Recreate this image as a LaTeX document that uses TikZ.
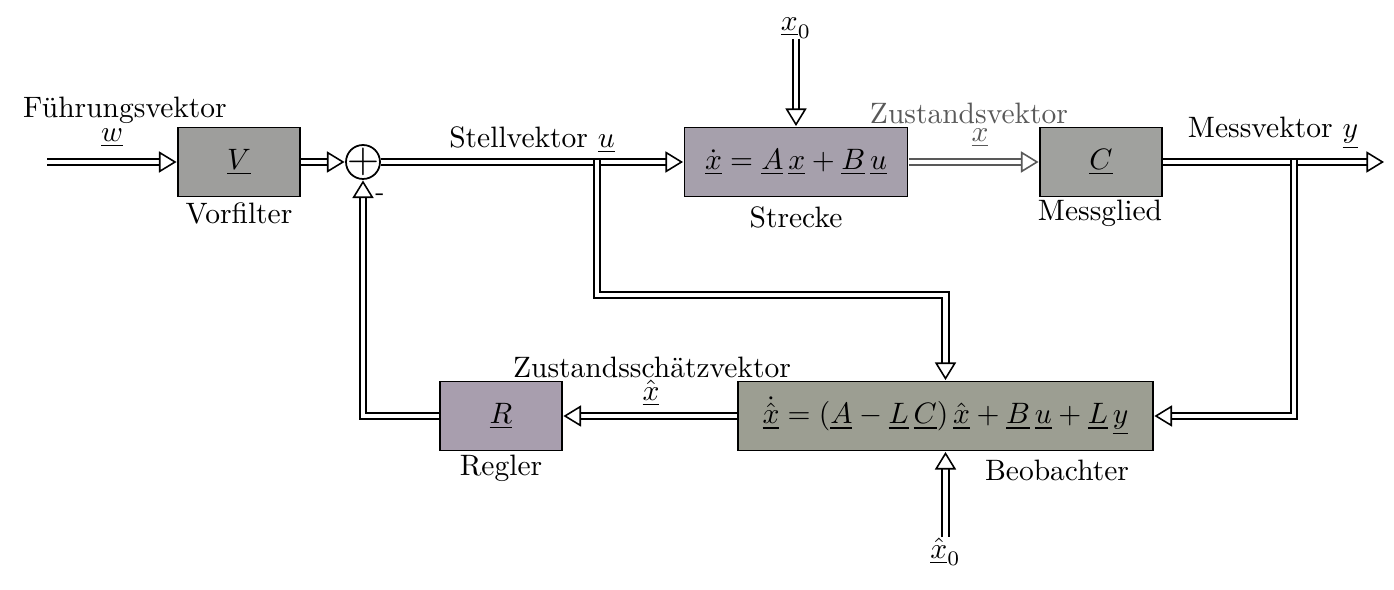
\documentclass[tikz,border=0pt]{standalone}
\usetikzlibrary{arrows.meta}
\definecolor{cV}{RGB}{158,158,156}
\definecolor{cS}{RGB}{166,160,172}
\definecolor{cC}{RGB}{160,161,158}
\definecolor{cR}{RGB}{168,158,174}
\definecolor{cB}{RGB}{156,158,146}
\begin{document}
\begin{tikzpicture}[x=0.02cm,y=-0.02cm,
  every node/.style={scale=1.68},
  blk/.style={draw=black, line width=1pt, minimum height=1.38cm/1.68, inner sep=0pt},
  dbl/.style={double=white, double distance=2.8pt, line width=0.9pt,
    -{Triangle[length=10pt, width=12pt, fill=white, line width=0.9pt]}},
  lbl/.style={inner sep=0pt}]
\useasboundingbox (0,0) rectangle (1394,590);
% blocks
\node[blk, fill=cV, minimum width=2.44cm/1.68] (V) at (239,162) {$\underline{V}$};
\node[draw, circle, line width=1pt, fill=white, minimum size=0.68cm/1.68, inner sep=0pt] (sum) at (363,162) {};
\node[lbl] (plus) at (sum.center) {\Large$+$};
\node[blk, fill=cS, minimum width=4.46cm/1.68] (S) at (796,162) {$\dot{\underline{x}} = \underline{A}\,\underline{x} + \underline{B}\,\underline{u}$};
\node[blk, fill=cC, minimum width=2.44cm/1.68] (C) at (1101,162) {$\underline{C}$};
\node[blk, fill=cR, minimum width=2.44cm/1.68] (R) at (501,416) {$\underline{R}$};
\node[blk, fill=cB, minimum width=8.3cm/1.68] (B) at (945.5,416) {$\dot{\hat{\underline{x}}} = (\underline{A} - \underline{L}\,\underline{C})\,\hat{\underline{x}} + \underline{B}\,\underline{u} + \underline{L}\,\underline{y}$};
% coordinates
\coordinate (in) at (47,162);
\coordinate (out) at (1384,162);
\coordinate (j1) at (597,160);
\coordinate (j2) at (1294,160);
\node[lbl] (x0) at (796,28) {$\underline{x}_0$};
\node[lbl] (xh0) at (945.5,552) {$\hat{\underline{x}}_0$};
% labels
\node[lbl] (lF) at (125,110) {Führungsvektor};
\node[lbl] (lw) at (112,138) {$\underline{w}$};
\node[lbl] (lVf) at (239,213) {Vorfilter};
\node[lbl] (lminus) at (380,197) {\small -};
\node[lbl] (lSt) at (532,140) {Stellvektor $\underline{u}$};
\node[lbl] (lStr) at (796,217) {Strecke};
\node[lbl, text=black!65] (lZ) at (969,113) {Zustandsvektor};
\node[lbl, text=black!65] (lx) at (980,138) {$\underline{x}$};
\node[lbl] (lM) at (1100,213) {Messglied};
\node[lbl] (lMv) at (1273,133) {Messvektor $\underline{y}$};
\node[lbl] (lZs) at (652,367) {Zustandsschätzvektor};
\node[lbl] (lxh) at (651,393) {$\hat{\underline{x}}$};
\node[lbl] (lReg) at (501,468) {Regler};
\node[lbl] (lBeo) at (1057,470) {Beobachter};
% connectors
\draw[dbl] (in) -- (V.west);
\draw[dbl] (V.east) -- (sum.west);
\draw[dbl] (sum.east) -- (S.west);
\draw[dbl, draw=black!65] (S.east) -- (C.west);
\draw[dbl] (C.east) -- (out);
\draw[dbl] (x0.south) -- (S.north);
\draw[dbl] (j1) -- ++(0,135) -| (B.north);
\draw[dbl] (j2) |- (B.east);
\draw[dbl] (B.west) -- (R.east);
\draw[dbl] (R.west) -| (sum.south);
\draw[dbl] (xh0.north) -- (B.south);
\end{tikzpicture}
\end{document}
